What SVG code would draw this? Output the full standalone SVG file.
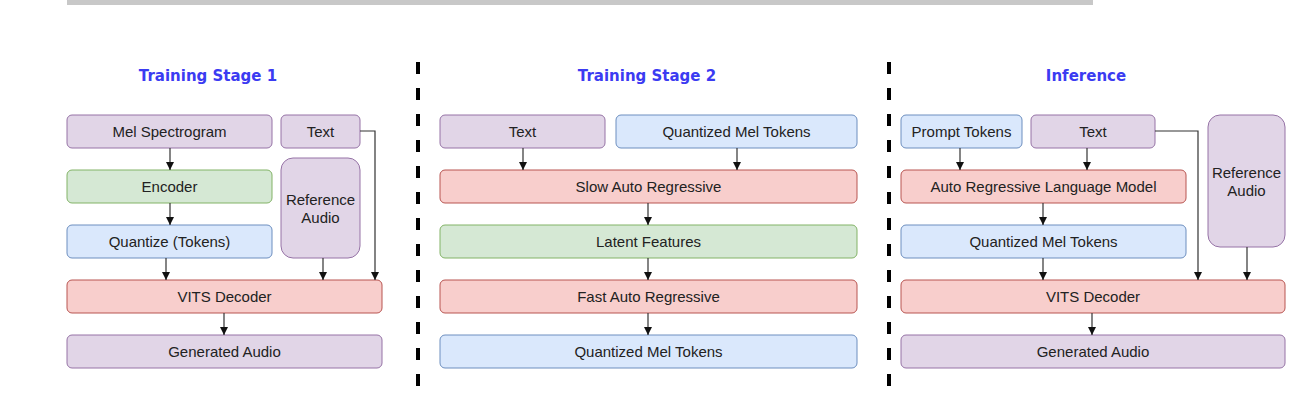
<svg xmlns="http://www.w3.org/2000/svg" width="1301" height="415" viewBox="0 0 1301 415">
<defs>
<style>
.p{fill:#e1d5e7;stroke:#9673a6;stroke-width:1}
.g{fill:#d5e8d4;stroke:#82b366;stroke-width:1}
.b{fill:#dae8fc;stroke:#6c8ebf;stroke-width:1}
.r{fill:#f8cecc;stroke:#b85450;stroke-width:1}
text{font-family:"Liberation Sans",Arial,sans-serif;font-size:15px;fill:#222;text-anchor:middle}
.t{font-family:"DejaVu Sans",Verdana,sans-serif;font-weight:bold;font-size:15px;fill:#3b3bf2}
.c{fill:none;stroke:#333;stroke-width:1.2}
.d{stroke:#000;stroke-width:4;stroke-dasharray:12 14}
</style>
<marker id="a" viewBox="0 0 10 10" refX="10" refY="5" markerWidth="8" markerHeight="8" markerUnits="userSpaceOnUse" orient="auto">
<path d="M0,0 L10,5 L0,10 z" fill="#111"/>
</marker>
</defs>
<rect x="67" y="0" width="1026" height="5" fill="#c8c8c8"/>
<line class="d" x1="418" y1="62" x2="418" y2="392"/>
<line class="d" x1="889" y1="62" x2="889" y2="392"/>
<text class="t" x="208" y="81">Training Stage 1</text>
<text class="t" x="647" y="81">Training Stage 2</text>
<text class="t" x="1086" y="81">Inference</text>

<g id="s1-mel"><rect class="p" x="67" y="115" width="205" height="33" rx="5"/><text x="169.5" y="136.5">Mel Spectrogram</text></g>
<g id="s1-text"><rect class="p" x="281" y="115" width="79" height="33" rx="5"/><text x="320.5" y="136.5">Text</text></g>
<g id="s1-encoder"><rect class="g" x="67" y="170" width="205" height="33" rx="5"/><text x="169.5" y="191.5">Encoder</text></g>
<g id="s1-ref"><rect class="p" x="281" y="158" width="79" height="100" rx="12"/><text x="320.5" y="205">Reference</text><text x="320.5" y="223">Audio</text></g>
<g id="s1-quant"><rect class="b" x="67" y="225" width="205" height="33" rx="5"/><text x="169.5" y="246.5">Quantize (Tokens)</text></g>
<g id="s1-vits"><rect class="r" x="67" y="280" width="315" height="33" rx="5"/><text x="224.5" y="301.5">VITS Decoder</text></g>
<g id="s1-gen"><rect class="p" x="67" y="335" width="315" height="33" rx="5"/><text x="224.5" y="356.5">Generated Audio</text></g>

<g id="s2-text"><rect class="p" x="440" y="115" width="165" height="33" rx="5"/><text x="522.5" y="136.5">Text</text></g>
<g id="s2-qmt-in"><rect class="b" x="616" y="115" width="241" height="33" rx="5"/><text x="736.5" y="136.5">Quantized Mel Tokens</text></g>
<g id="s2-slow"><rect class="r" x="440" y="170" width="417" height="33" rx="5"/><text x="648.5" y="191.5">Slow Auto Regressive</text></g>
<g id="s2-latent"><rect class="g" x="440" y="225" width="417" height="33" rx="5"/><text x="648.5" y="246.5">Latent Features</text></g>
<g id="s2-fast"><rect class="r" x="440" y="280" width="417" height="33" rx="5"/><text x="648.5" y="301.5">Fast Auto Regressive</text></g>
<g id="s2-qmt-out"><rect class="b" x="440" y="335" width="417" height="33" rx="5"/><text x="648.5" y="356.5">Quantized Mel Tokens</text></g>

<g id="i-prompt"><rect class="b" x="901" y="115" width="121" height="33" rx="5"/><text x="961.5" y="136.5">Prompt Tokens</text></g>
<g id="i-text"><rect class="p" x="1031" y="115" width="124" height="33" rx="5"/><text x="1093" y="136.5">Text</text></g>
<g id="i-ref"><rect class="p" x="1208" y="115" width="77" height="132" rx="12"/><text x="1246.5" y="178">Reference</text><text x="1246.5" y="196">Audio</text></g>
<g id="i-arlm"><rect class="r" x="901" y="170" width="285" height="33" rx="5"/><text x="1043.5" y="191.5">Auto Regressive Language Model</text></g>
<g id="i-qmt"><rect class="b" x="901" y="225" width="285" height="33" rx="5"/><text x="1043.5" y="246.5">Quantized Mel Tokens</text></g>
<g id="i-vits"><rect class="r" x="901" y="280" width="384" height="33" rx="5"/><text x="1093" y="301.5">VITS Decoder</text></g>
<g id="i-gen"><rect class="p" x="901" y="335" width="384" height="33" rx="5"/><text x="1093" y="356.5">Generated Audio</text></g>

<g id="connectors">
<path class="c" d="M170,148 V170" marker-end="url(#a)"/>
<path class="c" d="M170,203 V225" marker-end="url(#a)"/>
<path class="c" d="M166,258 V280" marker-end="url(#a)"/>
<path class="c" d="M323,258 V280" marker-end="url(#a)"/>
<path class="c" d="M360,131 H375 V280" marker-end="url(#a)"/>
<path class="c" d="M224,313 V335" marker-end="url(#a)"/>

<path class="c" d="M523,148 V170" marker-end="url(#a)"/>
<path class="c" d="M737,148 V170" marker-end="url(#a)"/>
<path class="c" d="M648,203 V225" marker-end="url(#a)"/>
<path class="c" d="M648,258 V280" marker-end="url(#a)"/>
<path class="c" d="M648,313 V335" marker-end="url(#a)"/>

<path class="c" d="M960,148 V170" marker-end="url(#a)"/>
<path class="c" d="M1087,148 V170" marker-end="url(#a)"/>
<path class="c" d="M1043,203 V225" marker-end="url(#a)"/>
<path class="c" d="M1043,258 V280" marker-end="url(#a)"/>
<path class="c" d="M1155,131 H1198 V280" marker-end="url(#a)"/>
<path class="c" d="M1247,247 V280" marker-end="url(#a)"/>
<path class="c" d="M1092,313 V335" marker-end="url(#a)"/>
</g>
</svg>
